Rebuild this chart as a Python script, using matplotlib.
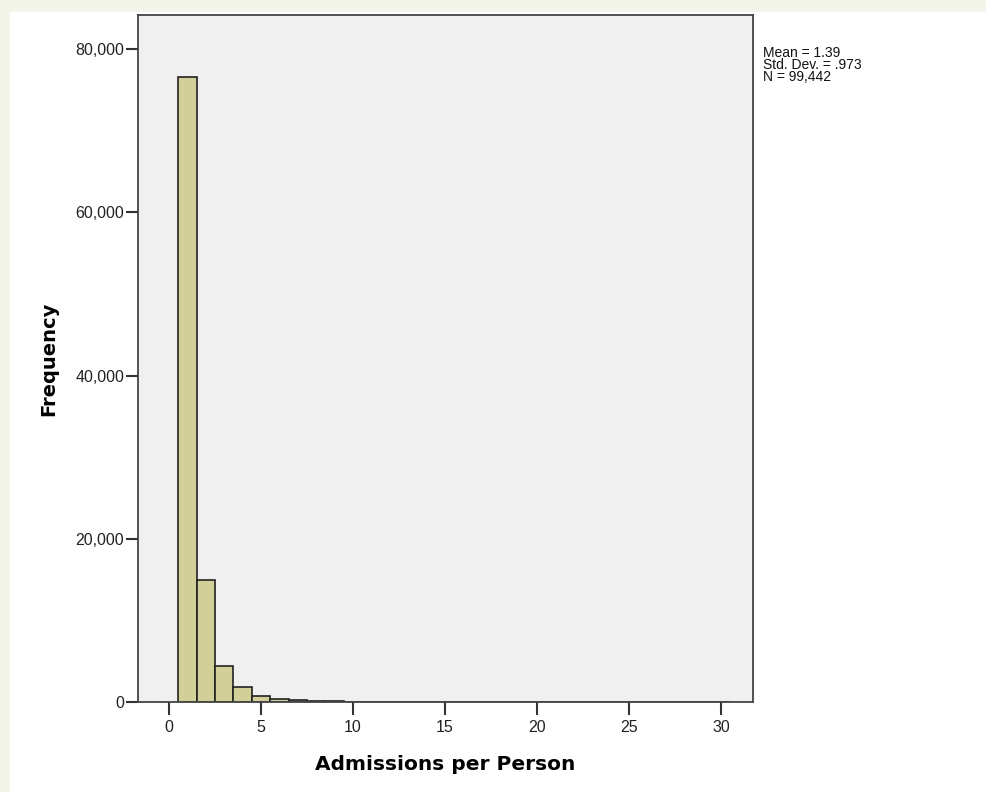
import matplotlib
matplotlib.use('Agg')
import matplotlib.pyplot as plt
from matplotlib.ticker import FuncFormatter
from matplotlib.patches import Rectangle

# Histogram of admissions per person (bins centred on integers)
admissions = list(range(1, 31))
frequency = [76550, 14950, 4420, 1840, 740, 370, 200, 110, 70, 45,
             30, 20, 15, 12, 10, 8, 6, 5, 4, 6,
             5, 3, 2, 2, 4, 3, 2, 1, 1, 1]
x_ticks = [0, 5, 10, 15, 20, 25, 30]
y_ticks = [0, 20000, 40000, 60000, 80000]
stats_lines = ['Mean = 1.39', 'Std. Dev. = .973', 'N = 99,442']

plt.rcParams['font.family'] = ['Liberation Sans', 'DejaVu Sans']

fig = plt.figure(figsize=(9.87, 7.92), dpi=100)
fig.patch.set_facecolor('white')

# cream border strips on the left and top, like the screenshot
fig.patches.append(Rectangle((0, 0), 10/987, 1, transform=fig.transFigure,
                             facecolor='#f4f5ea', edgecolor='none', zorder=0))
fig.patches.append(Rectangle((0, 1 - 12/792), 1, 12/792, transform=fig.transFigure,
                             facecolor='#f4f5ea', edgecolor='none', zorder=0))

ax = fig.add_axes([138/987, 1 - 702/792, (753 - 138)/987, (702 - 15)/792])
ax.set_facecolor('#f0f0f0')

ax.bar(admissions, frequency, width=1.0, color='#d3cf98', edgecolor='#222222',
       linewidth=1.2, zorder=2)

ax.set_xlim(-1.68, 31.74)
ax.set_ylim(0, 84170)
ax.set_xticks(x_ticks)
ax.set_yticks(y_ticks)
ax.yaxis.set_major_formatter(FuncFormatter(lambda v, p: f'{int(v):,}'))

for s in ax.spines.values():
    s.set_color('#444444')
    s.set_linewidth(1.3)

ax.tick_params(axis='both', direction='out', length=9, width=1.5, color='#333333',
               labelsize=11.5, labelcolor='#222222')
ax.tick_params(axis='x', pad=4)
ax.tick_params(axis='y', pad=1)

ax.set_xlabel('Admissions per Person', fontsize=14.5, fontweight='bold',
              family='DejaVu Sans', labelpad=14)
ax.set_ylabel('Frequency', fontsize=14, fontweight='bold',
              family='DejaVu Sans', labelpad=12)

fig.text(763/987, 1 - 46/792, '\n'.join(stats_lines), fontsize=10,
         va='top', ha='left', color='#111111', linespacing=0.82)

fig.savefig('out.png', dpi=100)
